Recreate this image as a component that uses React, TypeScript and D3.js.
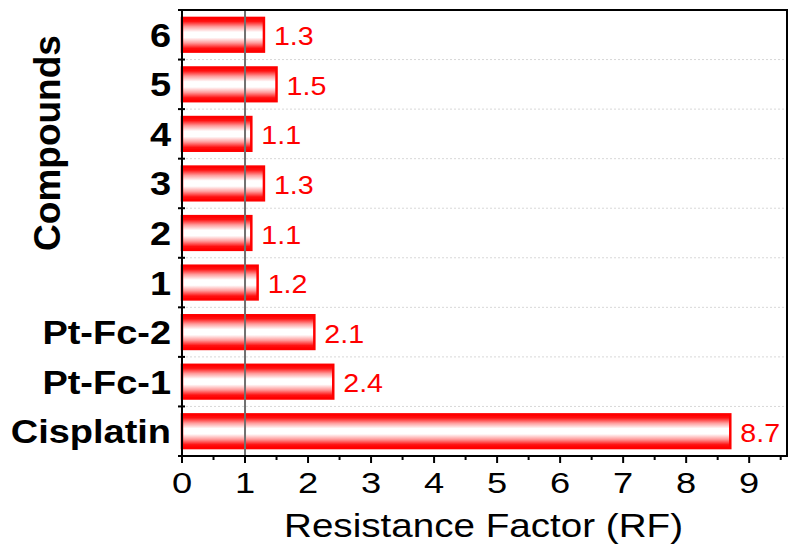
import React from "react";
import * as d3 from "d3";

const categories = ["6", "5", "4", "3", "2", "1", "Pt-Fc-2", "Pt-Fc-1", "Cisplatin"];
const values = [1.3, 1.5, 1.1, 1.3, 1.1, 1.2, 2.1, 2.4, 8.7];
const valueLabels = ["1.3", "1.5", "1.1", "1.3", "1.1", "1.2", "2.1", "2.4", "8.7"];
const xTicks = [0, 1, 2, 3, 4, 5, 6, 7, 8, 9];
const xMinorTicks = [0.5, 1.5, 2.5, 3.5, 4.5, 5.5, 6.5, 7.5, 8.5, 9.5];
const refValue = 1;

const W = 800;
const H = 557;
const left = 182;
const right = 787;
const top = 10;
const bottom = 456;
const FONT = "'Liberation Sans', Arial, Helvetica, sans-serif";

export default function App() {
  const x = d3.scaleLinear().domain([0, 9.6]).range([left, right]);
  const y = d3.scaleBand<string>().domain(categories).range([top, bottom]).paddingInner(0.32).paddingOuter(0.16);
  const boundaries = d3.range(categories.length + 1).map((i) => top + i * ((bottom - top) / categories.length));

  const stretched = (tx: number, ty: number, sx: number) => `translate(${tx},${ty}) scale(${sx},1)`;

  return (
    <svg width={W} height={H} style={{ position: "absolute", left: 0, top: 0, background: "#fff" }}>
      <defs>
        <linearGradient id="barGrad" x1="0" y1="0" x2="0" y2="1">
          <stop offset="0%" stopColor="#ff0000" />
          <stop offset="10%" stopColor="#ff1010" />
          <stop offset="26%" stopColor="#ff9c9c" />
          <stop offset="42%" stopColor="#ffffff" />
          <stop offset="58%" stopColor="#ffffff" />
          <stop offset="74%" stopColor="#ff9c9c" />
          <stop offset="90%" stopColor="#ff1010" />
          <stop offset="100%" stopColor="#ff0000" />
        </linearGradient>
      </defs>
      <rect x={0} y={0} width={W} height={H} fill="#fff" />

      {boundaries.slice(1, -1).map((b, i) => (
        <line key={"g" + i} x1={left} x2={right} y1={b} y2={b} stroke="#d8d8d8" strokeWidth={1} strokeDasharray="2,2" />
      ))}

      {categories.map((c, i) => (
        <rect
          key={"b" + c}
          x={x(0)}
          y={y(c)!}
          width={x(values[i]) - x(0)}
          height={y.bandwidth()}
          fill="url(#barGrad)"
          stroke="#ff0000"
          strokeWidth={2.5}
        />
      ))}

      <line x1={x(refValue)} x2={x(refValue)} y1={top} y2={bottom} stroke="#707070" strokeWidth={2} />

      {categories.map((c, i) => (
        <text
          key={"v" + c}
          transform={stretched(x(values[i]) + 10, y(c)! + y.bandwidth() / 2 + 10.5, 1.1)}
          fontFamily={FONT}
          fontSize={26}
          fill="#ff0000"
        >
          {valueLabels[i]}
        </text>
      ))}

      <rect x={left} y={top} width={right - left} height={bottom - top} fill="none" stroke="#000" strokeWidth={2} />

      {boundaries.map((b, i) => (
        <line key={"yt" + i} x1={left - 4} x2={left + 3} y1={b} y2={b} stroke="#000" strokeWidth={2} />
      ))}

      {categories.map((c) => (
        <text
          key={"yl" + c}
          transform={stretched(171, y(c)! + y.bandwidth() / 2 + 12, 1.15)}
          fontFamily={FONT}
          fontSize={33}
          fontWeight="bold"
          textAnchor="end"
          fill="#000"
        >
          {c}
        </text>
      ))}

      {xTicks.map((t) => (
        <line key={"xt" + t} x1={x(t)} x2={x(t)} y1={bottom} y2={bottom + 7} stroke="#000" strokeWidth={2} />
      ))}
      {xMinorTicks.map((t) => (
        <line key={"xm" + t} x1={x(t)} x2={x(t)} y1={bottom} y2={bottom + 4} stroke="#000" strokeWidth={2} />
      ))}
      {xTicks.map((t) => (
        <text
          key={"xl" + t}
          transform={stretched(x(t), 493, 1.25)}
          fontFamily={FONT}
          fontSize={29}
          textAnchor="middle"
          fill="#000"
        >
          {t}
        </text>
      ))}

      <text
        transform={stretched((left + right) / 2 - 1, 537, 1.17)}
        fontFamily={FONT}
        fontSize={33}
        textAnchor="middle"
        fill="#000"
      >
        Resistance Factor (RF)
      </text>
      <text
        transform={`translate(60,143) rotate(-90)`}
        fontFamily={FONT}
        fontSize={37}
        fontWeight="bold"
        textAnchor="middle"
        fill="#000"
      >
        Compounds
      </text>
    </svg>
  );
}
